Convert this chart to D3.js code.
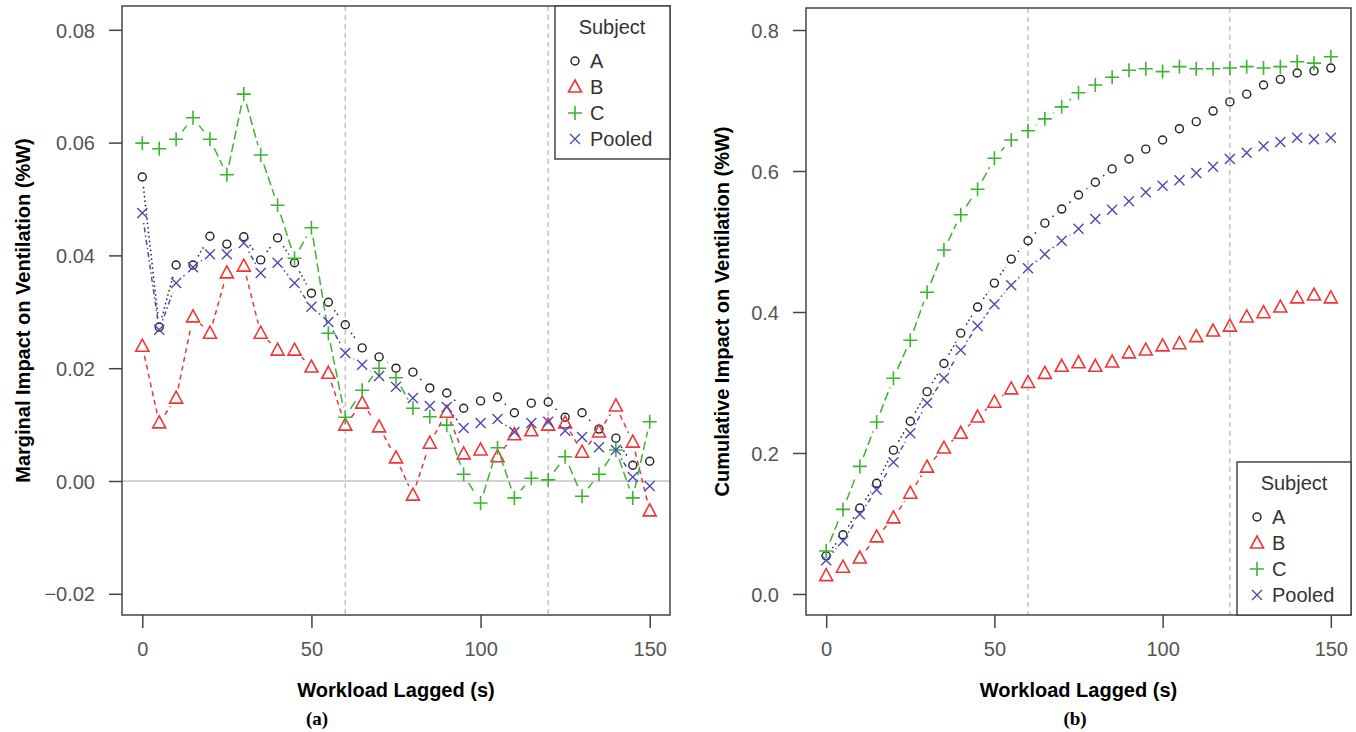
<!DOCTYPE html>
<html>
<head>
<meta charset="utf-8">
<script src="https://cdn.jsdelivr.net/npm/d3@7"></script>
<style>
  body { margin: 0; background: #fff; }
  svg text { font-family: "Liberation Sans", Arial, sans-serif; }
</style>
</head>
<body>
<svg id="chart" width="1356" height="732"></svg>
<script>
// lag in seconds
var lags = d3.range(0, 151, 5);

// marginal impact (panel a)
var marginalA = [0.0539, 0.0273, 0.0383, 0.0383, 0.0434, 0.0420, 0.0433, 0.0392, 0.0431, 0.0387, 0.0333,
  0.0317, 0.0277, 0.0236, 0.0220, 0.0200, 0.0193, 0.0165, 0.0156, 0.0129, 0.0142, 0.0149, 0.0121,
  0.0138, 0.0140, 0.0113, 0.0121, 0.0092, 0.0076, 0.0028, 0.0035];
var marginalB = [0.0239, 0.0103, 0.0147, 0.0291, 0.0262, 0.0369, 0.0381, 0.0262, 0.0232, 0.0232, 0.0202,
  0.0191, 0.0099, 0.0138, 0.0096, 0.0041, -0.0025, 0.0067, 0.0122, 0.0048, 0.0055, 0.0043, 0.0082,
  0.0089, 0.0099, 0.0103, 0.0051, 0.0087, 0.0133, 0.0069, -0.0053];
var marginalC = [0.0599, 0.0589, 0.0606, 0.0644, 0.0606, 0.0543, 0.0686, 0.0578, 0.0489, 0.0395, 0.0449,
  0.0262, 0.0113, 0.0161, 0.0200, 0.0183, 0.0129, 0.0114, 0.0099, 0.0012, -0.0039, 0.0059, -0.0030,
  0.0005, 0.0002, 0.0043, -0.0027, 0.0012, 0.0055, -0.0030, 0.0105];
var marginalPooled = [0.0475, 0.0268, 0.0351, 0.0379, 0.0402, 0.0402, 0.0422, 0.0369, 0.0387, 0.0351, 0.0309,
  0.0282, 0.0227, 0.0206, 0.0186, 0.0167, 0.0147, 0.0133, 0.0131, 0.0094, 0.0103, 0.0110, 0.0087,
  0.0103, 0.0105, 0.0089, 0.0078, 0.0060, 0.0055, 0.0007, -0.0009];

// cumulative impact (panel b)
var cumulativeA = [0.054, 0.084, 0.122, 0.157, 0.204, 0.245, 0.287, 0.327, 0.370, 0.407, 0.441,
  0.475, 0.501, 0.526, 0.546, 0.566, 0.584, 0.603, 0.617, 0.631, 0.644, 0.660, 0.670,
  0.685, 0.698, 0.709, 0.722, 0.730, 0.739, 0.742, 0.746];
var cumulativeB = [0.026, 0.038, 0.051, 0.081, 0.108, 0.143, 0.180, 0.207, 0.228, 0.251, 0.272,
  0.291, 0.300, 0.313, 0.323, 0.328, 0.323, 0.329, 0.342, 0.346, 0.352, 0.355, 0.365,
  0.373, 0.380, 0.393, 0.399, 0.407, 0.420, 0.424, 0.420];
var cumulativeC = [0.061, 0.120, 0.181, 0.244, 0.306, 0.360, 0.428, 0.488, 0.538, 0.574, 0.618,
  0.644, 0.657, 0.674, 0.691, 0.711, 0.722, 0.733, 0.743, 0.745, 0.741, 0.748, 0.745,
  0.745, 0.746, 0.748, 0.746, 0.748, 0.755, 0.753, 0.762];
var cumulativePooled = [0.048, 0.075, 0.113, 0.148, 0.187, 0.228, 0.271, 0.306, 0.346, 0.380, 0.411,
  0.438, 0.462, 0.482, 0.501, 0.518, 0.532, 0.545, 0.557, 0.570, 0.579, 0.587, 0.597,
  0.606, 0.617, 0.626, 0.635, 0.641, 0.647, 0.645, 0.647];

var subjects = ["A", "B", "C", "Pooled"];
var xTicks = [0, 50, 100, 150];
var marginalTicks = [-0.02, 0.00, 0.02, 0.04, 0.06, 0.08];
var cumulativeTicks = [0.0, 0.2, 0.4, 0.6, 0.8];
var refLines = [60, 120];

var colors = ["#222222", "#f03535", "#3cb431", "#4a4ab4"];
var dashes = ["1.5,3", "5,4", "9,4", "1.5,3,5,3"];

function drawSymbol(g, i, x, y) {
  var c = colors[i];
  if (i == 0) {
    g.append("circle").attr("cx", x).attr("cy", y).attr("r", 4)
      .attr("fill", "none").attr("stroke", c).attr("stroke-width", 1.4);
  } else if (i == 1) {
    g.append("path")
      .attr("d", "M" + x + "," + (y - 7) + "L" + (x + 6.5) + "," + (y + 5) + "L" + (x - 6.5) + "," + (y + 5) + "Z")
      .attr("fill", "none").attr("stroke", c).attr("stroke-width", 1.6);
  } else if (i == 2) {
    g.append("path")
      .attr("d", "M" + (x - 7) + "," + y + "H" + (x + 7) + "M" + x + "," + (y - 7) + "V" + (y + 7))
      .attr("stroke", c).attr("stroke-width", 1.6);
  } else {
    g.append("path")
      .attr("d", "M" + (x - 5) + "," + (y - 5) + "L" + (x + 5) + "," + (y + 5) + "M" + (x + 5) + "," + (y - 5) + "L" + (x - 5) + "," + (y + 5))
      .attr("stroke", c).attr("stroke-width", 1.4);
  }
}

function panel(opts) {
  var svg = d3.select("#chart");
  var xScale = d3.scaleLinear().domain([-6, 156]).range([opts.left, opts.right]);
  var yScale = d3.scaleLinear().domain(opts.yDomain).range([opts.bottom, opts.top]);

  var g = svg.append("g");

  // reference lines
  g.selectAll(".vref").data(refLines).enter().append("line")
    .attr("x1", d => xScale(d)).attr("x2", d => xScale(d))
    .attr("y1", opts.top).attr("y2", opts.bottom)
    .attr("stroke", "#c4c4c4").attr("stroke-width", 1.5).attr("stroke-dasharray", "5,4");
  if (opts.zeroLine) {
    g.append("line")
      .attr("x1", opts.left).attr("x2", opts.right)
      .attr("y1", yScale(0)).attr("y2", yScale(0))
      .attr("stroke", "#c4c4c4").attr("stroke-width", 1.5);
  }

  // axes
  var xAxis = d3.axisBottom(xScale).tickValues(xTicks).tickSize(13).tickPadding(8);
  var gx = g.append("g").attr("transform", "translate(0," + opts.bottom + ")").call(xAxis);
  gx.select(".domain").remove();
  var yAxis = d3.axisLeft(yScale).tickValues(opts.yTicks).tickSize(13).tickPadding(14)
    .tickFormat(d3.format(opts.yFormat));
  var gy = g.append("g").attr("transform", "translate(" + opts.left + ",0)").call(yAxis);
  gy.select(".domain").remove();
  g.selectAll(".tick line").attr("stroke", "#444").attr("stroke-width", 1.5);
  g.selectAll(".tick text").attr("fill", "#555").style("font-size", "20px");
  gx.selectAll(".tick text").attr("dy", "1em");
  gy.selectAll(".tick text").attr("dy", "0.36em");

  // series, R type="b": segments stop short of each point
  var gap = 10;
  opts.series.forEach(function(vals, i) {
    var pts = vals.map((v, j) => [xScale(lags[j]), yScale(v)]);
    for (var j = 0; j < pts.length - 1; j++) {
      var dx = pts[j + 1][0] - pts[j][0], dy = pts[j + 1][1] - pts[j][1];
      var d = Math.sqrt(dx * dx + dy * dy);
      if (d <= 2 * gap) continue;
      var ux = dx / d, uy = dy / d;
      g.append("line")
        .attr("x1", pts[j][0] + ux * gap).attr("y1", pts[j][1] + uy * gap)
        .attr("x2", pts[j + 1][0] - ux * gap).attr("y2", pts[j + 1][1] - uy * gap)
        .attr("stroke", colors[i]).attr("stroke-width", 1.5)
        .attr("stroke-dasharray", dashes[i]);
    }
    pts.forEach(p => drawSymbol(g, i, p[0], p[1]));
  });

  // box
  g.append("rect")
    .attr("x", opts.left).attr("y", opts.top)
    .attr("width", opts.right - opts.left).attr("height", opts.bottom - opts.top)
    .attr("fill", "none").attr("stroke", "#444").attr("stroke-width", 1.5);

  // legend
  var lg = g.append("g").attr("transform", "translate(" + opts.legend[0] + "," + opts.legend[1] + ")");
  lg.append("rect").attr("x", 0).attr("y", 0).attr("width", opts.right - opts.legend[0]).attr("height", 153)
    .attr("fill", "#fff").attr("stroke", "#444").attr("stroke-width", 1.5);
  lg.append("text").attr("x", 57).attr("y", 28).attr("text-anchor", "middle")
    .attr("fill", "#333").style("font-size", "20px").text("Subject");
  subjects.forEach(function(s, i) {
    var yy = 55 + i * 26;
    drawSymbol(lg, i, 20, yy);
    lg.append("text").attr("x", 35).attr("y", yy + 7).attr("fill", "#333")
      .style("font-size", "20px").text(s);
  });

  // titles
  svg.append("text")
    .attr("x", xScale(75)).attr("y", 697)
    .attr("text-anchor", "middle")
    .style("font-size", "20px").style("font-weight", "bold")
    .text("Workload Lagged (s)");
  svg.append("text")
    .attr("transform", "translate(" + opts.titleX + "," + ((opts.top + opts.bottom) / 2) + ") rotate(-90)")
    .attr("text-anchor", "middle")
    .style("font-size", "20px").style("font-weight", "bold")
    .text(opts.yTitle);
  svg.append("text")
    .attr("x", opts.tagX).attr("y", 725)
    .attr("text-anchor", "middle")
    .style("font-family", "Liberation Serif, Times New Roman, serif")
    .style("font-size", "19px").style("font-weight", "bold")
    .text(opts.tag);
}

panel({
  left: 122, right: 670, top: 6, bottom: 615,
  yDomain: [-0.02376, 0.08422], yTicks: marginalTicks, yFormat: ".2f",
  zeroLine: true,
  series: [marginalA, marginalB, marginalC, marginalPooled],
  legend: [555, 6],
  titleX: 30, yTitle: "Marginal Impact on Ventilation (%W)",
  tagX: 317, tag: "(a)"
});

panel({
  left: 806, right: 1351, top: 8, bottom: 615,
  yDomain: [-0.0298, 0.8312], yTicks: cumulativeTicks, yFormat: ".1f",
  zeroLine: false,
  series: [cumulativeA, cumulativeB, cumulativeC, cumulativePooled],
  legend: [1237, 462],
  titleX: 729, yTitle: "Cumulative Impact on Ventilation (%W)",
  tagX: 1075, tag: "(b)"
});
</script>
</body>
</html>
